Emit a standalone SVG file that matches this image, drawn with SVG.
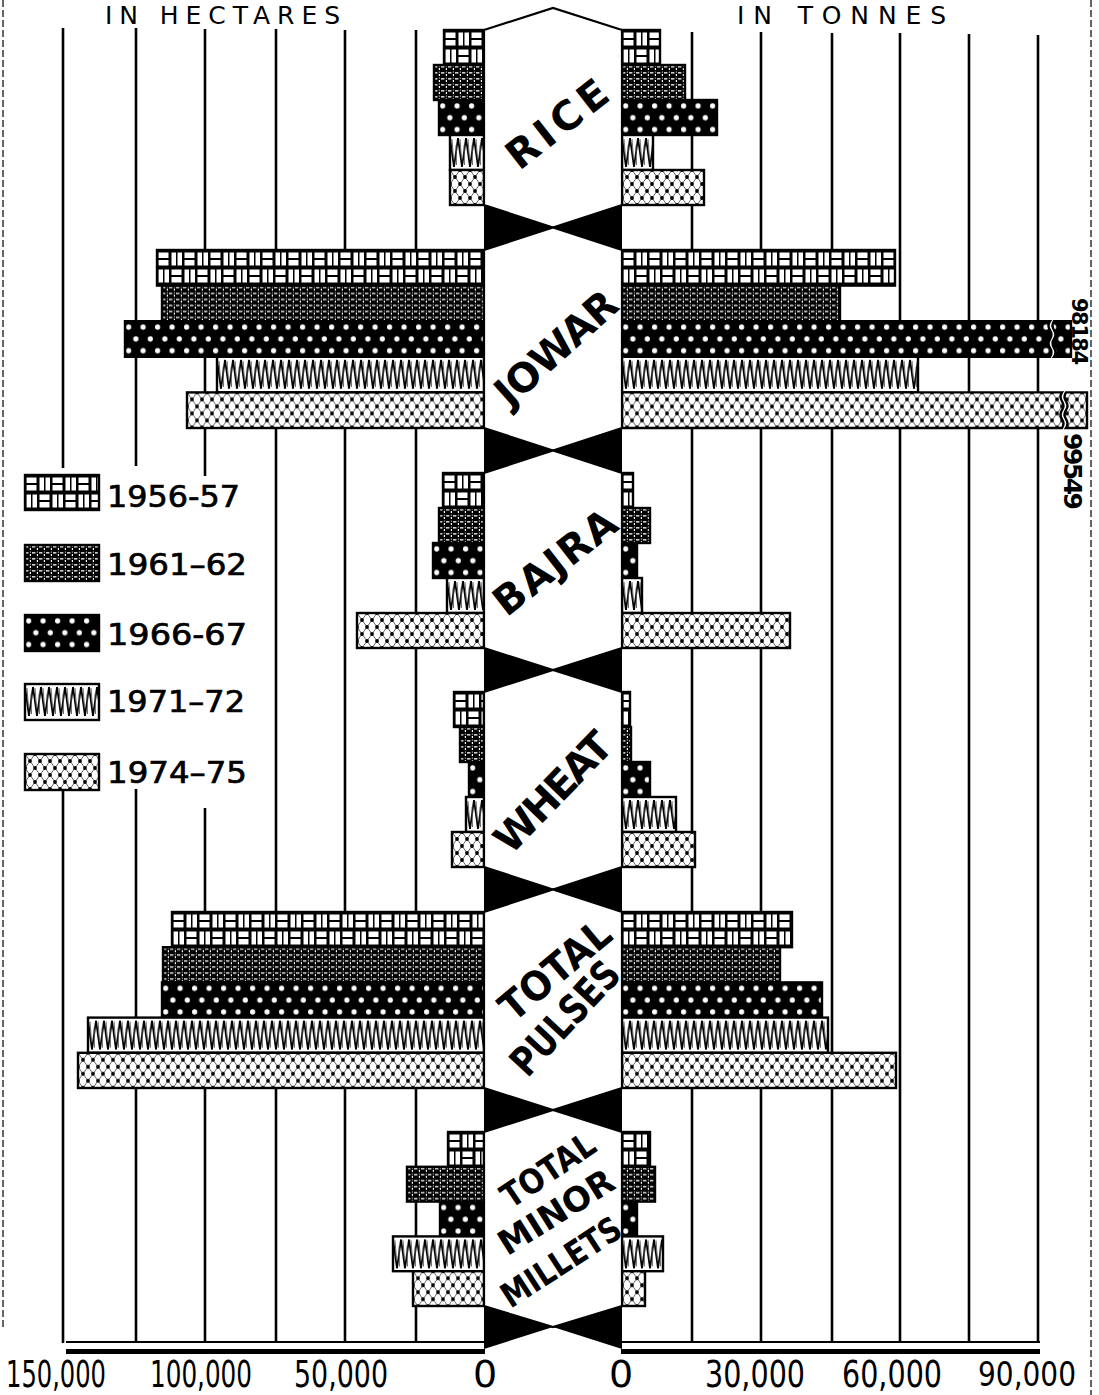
<svg xmlns="http://www.w3.org/2000/svg" width="1099" height="1395" viewBox="0 0 1099 1395">
<style>
.grid line{stroke:#000;stroke-width:2.6}
.bar{stroke:#000;stroke-width:2.4}
.hex{fill:#fff;stroke:#000;stroke-width:2.2}
.tie{fill:#000}
.t{font-family:"DejaVu Sans","Liberation Sans",sans-serif;fill:#000}
.crop{font-size:40px;font-weight:bold}
.ax{font-size:38px}
.leg{font-size:30px;stroke:#000;stroke-width:0.7}
</style>
<defs>
<pattern id="p56" patternUnits="userSpaceOnUse" width="26" height="35">
<rect width="26" height="35" fill="#000"/>
<g fill="#fff">
<rect x="1.5" y="2.5" width="10" height="5.5"/><rect x="1.5" y="10" width="10" height="5.5"/>
<rect x="14.5" y="2.5" width="4.5" height="13"/><rect x="20.5" y="2.5" width="4.5" height="13"/>
<rect x="1.5" y="19.5" width="4.5" height="13"/><rect x="7.5" y="19.5" width="4.5" height="13"/>
<rect x="14.5" y="19.5" width="10" height="5.5"/><rect x="14.5" y="27" width="10" height="5.5"/>
</g>
</pattern>
<pattern id="p61" patternUnits="userSpaceOnUse" width="7" height="6">
<rect width="7" height="6" fill="#000"/>
<rect x="0" y="1.2" width="3.4" height="1.3" fill="#fff"/>
<rect x="4.8" y="3" width="1.2" height="2" fill="#fff"/>
<rect x="4.8" y="0.6" width="1.2" height="1" fill="#ccc"/>
</pattern>
<pattern id="p66" patternUnits="userSpaceOnUse" width="14.5" height="23.6">
<rect width="14.5" height="23.6" fill="#000"/>
<circle cx="3.6" cy="5.9" r="2.6" fill="#fff"/>
<circle cx="10.85" cy="17.7" r="2.6" fill="#fff"/>
</pattern>
<pattern id="p71" patternUnits="userSpaceOnUse" width="16" height="35">
<rect width="16" height="35" fill="#fff"/>
<path d="M0,3 L4,32 L8,3 L12,32 L16,3" fill="none" stroke="#000" stroke-width="1.8"/>
<path d="M2,4 L3.5,24 M10,4 L11.5,24 M6,10 L6.5,30 M14,10 L14.5,30" fill="none" stroke="#555" stroke-width="0.9"/>
</pattern>
<pattern id="p74" patternUnits="userSpaceOnUse" width="10" height="14">
<rect width="10" height="14" fill="#fff"/>
<path d="M0,0 L10,14 M10,0 L0,14" stroke="#000" stroke-width="0.6"/>
<g fill="#000"><circle cx="0" cy="0" r="1.9"/><circle cx="10" cy="0" r="1.9"/><circle cx="0" cy="14" r="1.9"/><circle cx="10" cy="14" r="1.9"/><circle cx="5" cy="7" r="1.9"/></g>
</pattern>
</defs>
<rect width="1099" height="1395" fill="#fff"/>

<g id="borders" fill="none" stroke="#333" stroke-width="1.5" stroke-dasharray="7 3">
<line x1="3" y1="0" x2="3" y2="1330"/>
<line x1="1091" y1="0" x2="1091" y2="1395"/>
</g>

<g id="titles" class="t">
<text x="105" y="24" font-size="25" textLength="235">IN HECTARES</text>
<text x="737" y="24" font-size="25" textLength="209">IN TONNES</text>
</g>

<g id="gridlines" class="grid">
<line x1="63" y1="28" x2="63" y2="468"/><line x1="63" y1="790" x2="63" y2="1343"/>
<line x1="136" y1="28" x2="136" y2="466"/><line x1="136" y1="789" x2="136" y2="1343"/>
<line x1="205" y1="29" x2="205" y2="476"/><line x1="205" y1="808" x2="205" y2="1343"/>
<line x1="276" y1="29" x2="276" y2="1343"/>
<line x1="345" y1="30" x2="345" y2="1343"/>
<line x1="416" y1="30" x2="416" y2="1343"/>
<line x1="692" y1="32" x2="692" y2="1343"/>
<line x1="761" y1="32" x2="761" y2="1343"/>
<line x1="832" y1="33" x2="832" y2="1343"/>
<line x1="900" y1="33" x2="900" y2="1343"/>
<line x1="969" y1="34" x2="969" y2="1343"/>
<line x1="1038" y1="35" x2="1038" y2="1343"/>
</g>

<g id="rice">
<rect class="bar" transform="translate(444,30)" width="40" height="35" fill="url(#p56)"/>
<rect class="bar" transform="translate(434,65)" width="50" height="35" fill="url(#p61)"/>
<rect class="bar" transform="translate(439,100)" width="45" height="35" fill="url(#p66)"/>
<rect class="bar" transform="translate(450,135)" width="34" height="35" fill="url(#p71)"/>
<rect class="bar" transform="translate(450,170)" width="34" height="35" fill="url(#p74)"/>
<rect class="bar" transform="translate(622,30)" width="38" height="35" fill="url(#p56)"/>
<rect class="bar" transform="translate(622,65)" width="63" height="35" fill="url(#p61)"/>
<rect class="bar" transform="translate(622,100)" width="95" height="35" fill="url(#p66)"/>
<rect class="bar" transform="translate(622,135)" width="31" height="35" fill="url(#p71)"/>
<rect class="bar" transform="translate(622,170)" width="82" height="35" fill="url(#p74)"/>
<polygon class="hex" points="484,30 553,8 622,30 622,205 553,227.5 484,205"/>
<text class="t crop" transform="translate(557,124) rotate(-38)" x="0" y="14" text-anchor="middle" textLength="118">RICE</text>
</g>

<g id="jowar">
<rect class="bar" transform="translate(157,250)" width="327" height="35.6" fill="url(#p56)"/>
<rect class="bar" transform="translate(162,285.6)" width="322" height="35.6" fill="url(#p61)"/>
<rect class="bar" transform="translate(125,321.2)" width="359" height="35.6" fill="url(#p66)"/>
<rect class="bar" transform="translate(217,356.8)" width="267" height="35.6" fill="url(#p71)"/>
<rect class="bar" transform="translate(187,392.4)" width="297" height="35.6" fill="url(#p74)"/>
<rect class="bar" transform="translate(622,250)" width="273" height="35.6" fill="url(#p56)"/>
<rect class="bar" transform="translate(622,285.6)" width="218" height="35.6" fill="url(#p61)"/>
<path class="bar" transform="translate(622,321.2)" d="M0,0 H428 q-3,4.45 0,8.9 q3,4.45 0,8.9 q-3,4.45 0,8.9 q3,4.45 0,8.9 H0 Z" fill="url(#p66)"/>
<path class="bar" transform="translate(1050,321.2)" d="M4,0 H21 V35.6 H4 q3,-4.45 0,-8.9 q-3,-4.45 0,-8.9 q3,-4.45 0,-8.9 q-3,-4.45 0,-8.9 Z" fill="url(#p66)"/>
<rect class="bar" transform="translate(622,356.8)" width="296" height="35.6" fill="url(#p71)"/>
<path class="bar" transform="translate(622,392.4)" d="M0,0 H440 q-3,4.45 0,8.9 q3,4.45 0,8.9 q-3,4.45 0,8.9 q3,4.45 0,8.9 H0 Z" fill="url(#p74)"/>
<path class="bar" transform="translate(1062,392.4)" d="M4,0 H25 V35.6 H4 q3,-4.45 0,-8.9 q-3,-4.45 0,-8.9 q3,-4.45 0,-8.9 q-3,-4.45 0,-8.9 Z" fill="url(#p74)"/>
<text class="t" transform="translate(1072,298) rotate(90)" font-size="21" font-weight="bold" textLength="67">98184</text>
<text class="t" transform="translate(1064,433) rotate(90)" font-size="25" font-weight="bold" textLength="77">99549</text>
<polygon class="hex" points="484,250 553,227.5 622,250 622,428 553,450.5 484,428"/>
<text class="t crop" transform="translate(556,348) rotate(-42)" x="0" y="14" text-anchor="middle" textLength="150">JOWAR</text>
</g>

<g id="bajra">
<rect class="bar" transform="translate(443,473)" width="41" height="35" fill="url(#p56)"/>
<rect class="bar" transform="translate(439,508)" width="45" height="35" fill="url(#p61)"/>
<rect class="bar" transform="translate(433,543)" width="51" height="35" fill="url(#p66)"/>
<rect class="bar" transform="translate(447,578)" width="37" height="35" fill="url(#p71)"/>
<rect class="bar" transform="translate(357,613)" width="127" height="35" fill="url(#p74)"/>
<rect class="bar" transform="translate(622,473)" width="11" height="35" fill="url(#p56)"/>
<rect class="bar" transform="translate(622,508)" width="28" height="35" fill="url(#p61)"/>
<rect class="bar" transform="translate(622,543)" width="15" height="35" fill="url(#p66)"/>
<rect class="bar" transform="translate(622,578)" width="20" height="35" fill="url(#p71)"/>
<rect class="bar" transform="translate(622,613)" width="168" height="35" fill="url(#p74)"/>
<polygon class="hex" points="484,473 553,450.5 622,473 622,648 553,670 484,648"/>
<text class="t crop" transform="translate(555,562) rotate(-38)" x="0" y="14" text-anchor="middle" font-size="38" textLength="145">BAJRA</text>
</g>

<g id="wheat">
<rect class="bar" transform="translate(454,692)" width="30" height="35" fill="url(#p56)"/>
<rect class="bar" transform="translate(460,727)" width="24" height="35" fill="url(#p61)"/>
<rect class="bar" transform="translate(469,762)" width="15" height="35" fill="url(#p66)"/>
<rect class="bar" transform="translate(466,797)" width="18" height="35" fill="url(#p71)"/>
<rect class="bar" transform="translate(452,832)" width="32" height="35" fill="url(#p74)"/>
<rect class="bar" transform="translate(622,692)" width="8" height="35" fill="url(#p56)"/>
<rect class="bar" transform="translate(622,727)" width="9" height="35" fill="url(#p61)"/>
<rect class="bar" transform="translate(622,762)" width="28" height="35" fill="url(#p66)"/>
<rect class="bar" transform="translate(622,797)" width="54" height="35" fill="url(#p71)"/>
<rect class="bar" transform="translate(622,832)" width="73" height="35" fill="url(#p74)"/>
<polygon class="hex" points="484,692 553,670 622,692 622,867 553,889.5 484,867"/>
<text class="t crop" transform="translate(553,792) rotate(-46)" x="0" y="14" text-anchor="middle" font-size="38" textLength="150">WHEAT</text>
</g>

<g id="pulses">
<rect class="bar" transform="translate(172,912)" width="312" height="35.2" fill="url(#p56)"/>
<rect class="bar" transform="translate(163,947.2)" width="321" height="35.2" fill="url(#p61)"/>
<rect class="bar" transform="translate(162,982.4)" width="322" height="35.2" fill="url(#p66)"/>
<rect class="bar" transform="translate(88,1017.6)" width="396" height="35.2" fill="url(#p71)"/>
<rect class="bar" transform="translate(78,1052.8)" width="406" height="35.2" fill="url(#p74)"/>
<rect class="bar" transform="translate(622,912)" width="170" height="35.2" fill="url(#p56)"/>
<rect class="bar" transform="translate(622,947.2)" width="158" height="35.2" fill="url(#p61)"/>
<rect class="bar" transform="translate(622,982.4)" width="200" height="35.2" fill="url(#p66)"/>
<rect class="bar" transform="translate(622,1017.6)" width="206" height="35.2" fill="url(#p71)"/>
<rect class="bar" transform="translate(622,1052.8)" width="274" height="35.2" fill="url(#p74)"/>
<polygon class="hex" points="484,912 553,889.5 622,912 622,1088 553,1110 484,1088"/>
<text class="t crop" transform="translate(555,970) rotate(-40)" x="0" y="14" text-anchor="middle" textLength="132" lengthAdjust="spacingAndGlyphs">TOTAL</text>
<text class="t crop" transform="translate(565,1018) rotate(-47)" x="0" y="14" text-anchor="middle" textLength="140" lengthAdjust="spacingAndGlyphs">PULSES</text>
</g>

<g id="millets">
<rect class="bar" transform="translate(448,1132)" width="36" height="34.8" fill="url(#p56)"/>
<rect class="bar" transform="translate(407,1166.8)" width="77" height="34.8" fill="url(#p61)"/>
<rect class="bar" transform="translate(440,1201.6)" width="44" height="34.8" fill="url(#p66)"/>
<rect class="bar" transform="translate(393,1236.4)" width="91" height="34.8" fill="url(#p71)"/>
<rect class="bar" transform="translate(413,1271.2)" width="71" height="34.8" fill="url(#p74)"/>
<rect class="bar" transform="translate(622,1132)" width="28" height="34.8" fill="url(#p56)"/>
<rect class="bar" transform="translate(622,1166.8)" width="33" height="34.8" fill="url(#p61)"/>
<rect class="bar" transform="translate(622,1201.6)" width="15" height="34.8" fill="url(#p66)"/>
<rect class="bar" transform="translate(622,1236.4)" width="41" height="34.8" fill="url(#p71)"/>
<rect class="bar" transform="translate(622,1271.2)" width="23" height="34.8" fill="url(#p74)"/>
<polygon class="hex" points="484,1132 553,1110 622,1132 622,1306 553,1327 484,1306"/>
<text class="t" transform="translate(548,1170) rotate(-34)" x="0" y="12" text-anchor="middle" font-size="34" font-weight="bold" textLength="106" lengthAdjust="spacingAndGlyphs">TOTAL</text>
<text class="t" transform="translate(556,1212) rotate(-32)" x="0" y="12" text-anchor="middle" font-size="34" font-weight="bold" textLength="130" lengthAdjust="spacingAndGlyphs">MINOR</text>
<text class="t" transform="translate(561,1262) rotate(-33)" x="0" y="12" text-anchor="middle" font-size="34" font-weight="bold" textLength="136" lengthAdjust="spacingAndGlyphs">MILLETS</text>
</g>

<g id="bowties" class="tie">
<polygon points="484,205 553,227.5 484,250"/><polygon points="622,205 553,227.5 622,250"/>
<polygon points="484,428 553,450.5 484,473"/><polygon points="622,428 553,450.5 622,473"/>
<polygon points="484,648 553,670 484,692"/><polygon points="622,648 553,670 622,692"/>
<polygon points="484,867 553,889.5 484,912"/><polygon points="622,867 553,889.5 622,912"/>
<polygon points="484,1088 553,1110 484,1132"/><polygon points="622,1088 553,1110 622,1132"/>
<polygon points="484,1306 553,1327 484,1349"/><polygon points="622,1306 553,1327 622,1349"/>
</g>

<g id="axis">
<line x1="66" y1="1342" x2="485" y2="1342" stroke="#000" stroke-width="2"/>
<line x1="66" y1="1351.5" x2="485" y2="1351.5" stroke="#000" stroke-width="5"/>
<line x1="621" y1="1342" x2="1040" y2="1342" stroke="#000" stroke-width="2"/>
<line x1="621" y1="1351.5" x2="1040" y2="1351.5" stroke="#000" stroke-width="5"/>
<g class="t ax">
<text x="6" y="1387" textLength="100" lengthAdjust="spacingAndGlyphs">150,000</text>
<text x="150" y="1387" textLength="102" lengthAdjust="spacingAndGlyphs">100,000</text>
<text x="294" y="1387" textLength="94" lengthAdjust="spacingAndGlyphs">50,000</text>
<text x="485" y="1387" text-anchor="middle">0</text>
<text x="621" y="1387" text-anchor="middle">0</text>
<text x="705" y="1387" textLength="100" lengthAdjust="spacingAndGlyphs">30,000</text>
<text x="842" y="1387" textLength="100" lengthAdjust="spacingAndGlyphs">60,000</text>
<text x="978" y="1386" font-size="34" textLength="98" lengthAdjust="spacingAndGlyphs">90,000</text>
</g>
</g>

<g id="legend">
<rect class="bar" transform="translate(25,475)" width="74" height="35" fill="url(#p56)"/>
<rect class="bar" transform="translate(25,545)" width="74" height="36" fill="url(#p61)"/>
<rect class="bar" transform="translate(25,615)" width="74" height="36" fill="url(#p66)"/>
<rect class="bar" transform="translate(25,684)" width="74" height="36" fill="url(#p71)"/>
<rect class="bar" transform="translate(25,754)" width="74" height="36" fill="url(#p74)"/>
<g class="t leg">
<text x="107" y="507" textLength="133" lengthAdjust="spacingAndGlyphs">1956-57</text>
<text x="107" y="575" textLength="140" lengthAdjust="spacingAndGlyphs">1961–62</text>
<text x="107" y="645" textLength="140" lengthAdjust="spacingAndGlyphs">1966-67</text>
<text x="107" y="712" textLength="138" lengthAdjust="spacingAndGlyphs">1971–72</text>
<text x="107" y="783" textLength="140" lengthAdjust="spacingAndGlyphs">1974–75</text>
</g>
</g>
</svg>
